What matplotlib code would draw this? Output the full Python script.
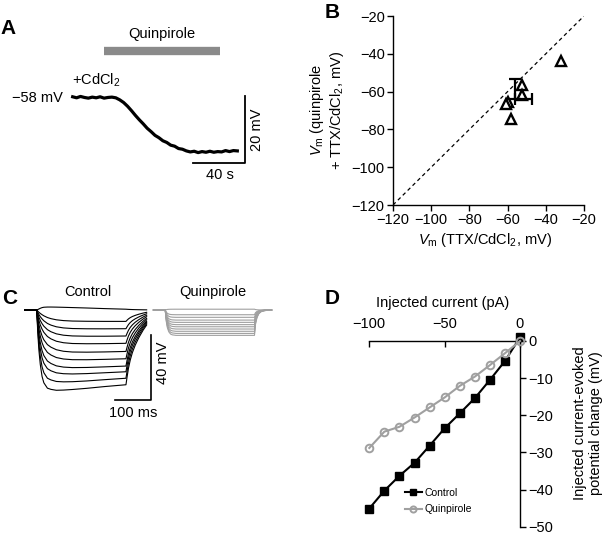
import numpy as np
import matplotlib.pyplot as plt

plt.rcParams['font.family'] = ['Liberation Sans', 'DejaVu Sans']
plt.rcParams['font.size'] = 10
plt.rcParams['mathtext.fontset'] = 'custom'
plt.rcParams['mathtext.rm'] = 'Liberation Sans'
plt.rcParams['mathtext.it'] = 'Liberation Sans:italic'

W, H = 605, 539

# ---------------- data ----------------
# A: membrane potential during quinpirole (+CdCl2), time in s, Vm in mV
a_time = [0, 3, 6, 9, 12, 15, 18, 21, 24, 27, 30, 33, 36, 39, 42, 45, 48, 51, 54, 57, 60,
          63, 66, 69, 72, 75, 78, 81, 84, 87, 90, 93, 96, 99, 102, 105, 108, 111, 114,
          117, 120, 123, 126]
a_vm = [-58.0, -58.3, -57.9, -58.2, -58.4, -58.1, -58.3, -58.0, -58.4, -58.2, -58.1, -58.3,
        -58.9, -59.7, -60.8, -62.1, -63.5, -64.8, -66.0, -67.3, -68.3, -69.4, -70.1, -71.0,
        -71.5, -72.3, -72.6, -73.3, -73.5, -74.0, -74.3, -74.1, -74.5, -74.2, -74.4, -74.1,
        -74.4, -74.2, -74.3, -73.9, -74.2, -73.9, -74.0]
a_drug_on, a_drug_off = 24, 113

# B: Vm before vs after quinpirole (TTX/CdCl2)
b_ctrl = [-32.0, -52.6, -52.3, -59.6, -60.8, -58.4]
b_quin = [-43.6, -56.5, -61.8, -65.3, -66.3, -74.7]
b_mean_x, b_mean_y = -56.0, -64.0
b_sem_x, b_sem_y = 9.0, 10.8

# C: voltage responses to current steps (ms, depth in mV below rest)
c_time = [-33, 0, 3, 6, 10, 15, 20, 30, 40, 55, 75, 100, 140, 190, 250,
          253, 257, 262, 268, 276, 286, 298, 308]
c_slow = [0, 0, .10, .19, .30, .41, .51, .66, .76, .86, .93, .97, .99, 1.0, 1.0]
c_fast = [0, 0, .31, .53, .71, .85, .92, .98, .99, 1, 1, 1, 1, 1, 1]
c_sag_shape = [0, 0, .15, .35, .6, .85, .97, 1, .97, .9, .8, .68, .5, .25, 0]
c_ctrl_off = [.9, .78, .67, .57, .47, .37, .27, .2]
c_ctrl_ss = [-0.5, 7.0, 11.5, 16.0, 20.5, 25.5, 30.0, 34.5, 38.0, 42.0, 46.0]
c_ctrl_sag = [-1.5, 0, 0.3, 0.5, 0.8, 1.2, 1.5, 2.0, 2.5, 3.5, 4.5]
c_ctrl_fastw = [0, 0, 0.1, 0.2, 0.3, 0.4, 0.5, 0.6, 0.7, 0.8, 0.9]
c_quin_on = [0, 0, .45, .70, .86, .95, .98, 1, 1, 1, 1, 1, 1, 1, 1]
c_quin_off = [.55, .3, .15, .07, .03, .01, 0, 0]
c_quin_ss = [-0.5, 2.9, 4.5, 6.2, 7.6, 9.0, 10.3, 11.7, 13.1, 14.4, 15.6]
c_quin_start = 360  # ms, where the quinpirole traces are drawn

# D: I-V relation
d_current = [-100, -90, -80, -70, -60, -50, -40, -30, -20, -10, 0]
d_ctrl = [-45.1, -40.3, -36.3, -32.8, -28.2, -23.5, -19.5, -15.4, -10.5, -5.4, 1.0]
d_quin = [-28.8, -24.4, -23.1, -20.6, -17.9, -15.2, -12.1, -9.6, -6.5, -3.3, 0.0]

QCOL = '#a0a0a0'

fig = plt.figure(figsize=(W / 100, H / 100), dpi=100)


def add_ax(l, t, r, b):
    return fig.add_axes([l / W, 1 - b / H, (r - l) / W, (b - t) / H])


def ftext(x, y, s, **kw):
    fig.text(x / W, 1 - y / H, s, **kw)


# ---------------- A ----------------
axA = add_ax(40, 20, 270, 180)
axA.set_xlim(-25.0, 151.0)
axA.set_ylim(-82.6, -35.3)
axA.axis('off')
axA.plot(a_time, a_vm, color='black', lw=2.3, solid_joinstyle='round')
axA.plot([a_drug_on, a_drug_off], [-44.4, -44.4], color='#8a8a8a', lw=6,
         solid_capstyle='butt')
# scale bars: 40 s, 20 mV
axA.plot([92, 132, 132], [-77.7, -77.7, -57.7], color='black', lw=1.3)
ftext(162, 34, 'Quinpirole', ha='center', va='center', fontsize=10.5)
ftext(72, 85, '+CdCl$_2$', ha='left', va='baseline', fontsize=10.5)
ftext(63, 98, '\u221258 mV', ha='right', va='center', fontsize=10.5)
ftext(257, 130, '20 mV', ha='center', va='center', rotation=90, fontsize=10.5)
ftext(220, 175, '40 s', ha='center', va='center', fontsize=10.5)
ftext(0, 28, 'A', ha='left', va='center', fontsize=15, fontweight='bold')

# ---------------- B ----------------
axB = add_ax(393, 16, 584, 205)
axB.set_xlim(-120, -20)
axB.set_ylim(-120, -20)
axB.spines[['top', 'right']].set_visible(False)
axB.spines[['left', 'bottom']].set_linewidth(1.0)
axB.set_xticks(range(-120, 0, 20))
axB.set_yticks(range(-120, 0, 20))
axB.tick_params(direction='out', length=4, width=1.0, labelsize=10.5, pad=2)
axB.plot([-120, -20], [-120, -20], color='black', lw=0.9, dashes=(3, 2.5))
axB.plot(b_ctrl, b_quin, linestyle='none', marker='^', ms=6.5, mew=1.7,
         mfc='white', mec='black', clip_on=False)
axB.errorbar([b_mean_x], [b_mean_y], xerr=[[0], [b_sem_x]], yerr=[[0], [b_sem_y]],
             fmt='none', ecolor='black', elinewidth=1.6, capsize=4.5, capthick=1.6)
ftext(485, 240, '$V_\\mathrm{m}$ (TTX/CdCl$_2$, mV)', ha='center', va='center',
      fontsize=10.5)
ftext(327, 110, '$V_\\mathrm{m}$ (quinpirole\n+ TTX/CdCl$_2$, mV)', ha='center',
      va='center', rotation=90, multialignment='center', fontsize=10.5)
ftext(325, 12, 'B', ha='left', va='center', fontsize=15, fontweight='bold')

# ---------------- C ----------------
axC = add_ax(15, 285, 290, 420)
axC.set_xlim(-60.8, 709.5)
axC.set_ylim(-67.7, 15.4)
axC.axis('off')
n_on = len(c_slow)
t = np.array(c_time)
for ss, sag, w in zip(c_ctrl_ss, c_ctrl_sag, c_ctrl_fastw):
    on = ss * (w * np.array(c_fast) + (1 - w) * np.array(c_slow)) + sag * np.array(c_sag_shape)
    off = ss * np.array(c_ctrl_off)
    axC.plot(t, -np.concatenate([on, off]), color='black', lw=0.8)
for ss in c_quin_ss:
    on = ss * np.array(c_quin_on)
    off = ss * np.array(c_quin_off)
    axC.plot(t[:-1] + c_quin_start, -np.concatenate([on, off])[:-1], color=QCOL, lw=0.8)
# scale bars: 100 ms, 40 mV
axC.plot([219.3, 319.3, 319.3], [-55.4, -55.4, -15.4], color='black', lw=1.2)
ftext(88, 292, 'Control', ha='center', va='center', fontsize=10.5)
ftext(213, 292, 'Quinpirole', ha='center', va='center', fontsize=10.5)
ftext(163, 363, '40 mV', ha='center', va='center', rotation=90, fontsize=10.5)
ftext(133, 413, '100 ms', ha='center', va='center', fontsize=10.5)
ftext(2, 298, 'C', ha='left', va='center', fontsize=15, fontweight='bold')

# ---------------- D ----------------
axD = add_ax(369.3, 341, 520, 526.7)
axD.set_xlim(-100, 0)
axD.set_ylim(-50, 0)
axD.spines[['left', 'bottom']].set_visible(False)
axD.spines[['top', 'right']].set_linewidth(1.0)
axD.xaxis.set_ticks_position('top')
axD.yaxis.set_ticks_position('right')
axD.set_xticks([-100, -50, 0])
axD.set_yticks(range(-50, 1, 10))
axD.tick_params(axis='x', direction='in', length=4, width=1.0, labelsize=10.5, pad=7)
axD.tick_params(axis='y', direction='out', length=4, width=1.0, labelsize=10.5, pad=2)
axD.plot(d_current, d_ctrl, color='black', lw=1.5, marker='s', ms=5.5,
         clip_on=False, label='Control', zorder=3)
axD.plot(d_current, d_quin, color=QCOL, lw=1.5, marker='o', ms=5.5, mew=1.4,
         mfc='none', clip_on=False, label='Quinpirole', zorder=4)
axD.legend(loc='upper left', bbox_to_anchor=(405 / W, 1 - 488 / H),
           bbox_transform=fig.transFigure, frameon=False, fontsize=7.5,
           handlelength=1.6, handletextpad=0.3, labelspacing=0.6, borderpad=0,
           borderaxespad=0, markerscale=0.8)
ftext(443, 303, 'Injected current (pA)', ha='center', va='center', fontsize=10.5)
ftext(588, 423, 'Injected current-evoked\npotential change (mV)', ha='center',
      va='center', rotation=90, multialignment='center', fontsize=10.5)
ftext(325, 298, 'D', ha='left', va='center', fontsize=15, fontweight='bold')

fig.savefig('out.png', dpi=100)
